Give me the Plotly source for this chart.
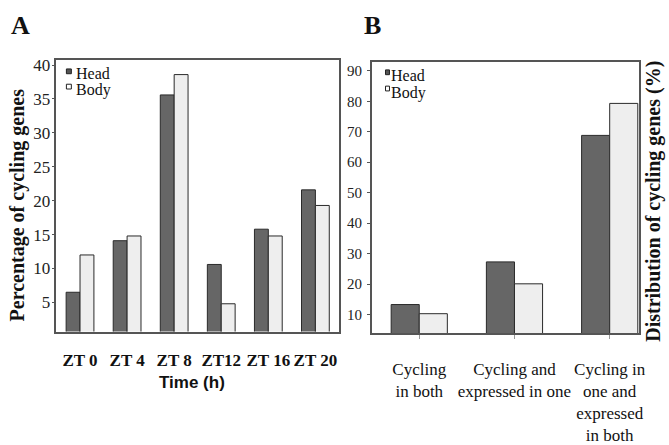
import plotly.graph_objects as go

# ---- data ----
time_points = ["ZT 0", "ZT 4", "ZT 8", "ZT12", "ZT 16", "ZT 20"]
head_pct = [6.5, 14.1, 35.6, 10.6, 15.8, 21.6]
body_pct = [12.0, 14.8, 38.6, 4.8, 14.8, 19.3]

dist_categories = ["Cycling<br>in both", "Cycling and<br>expressed in one",
                   "Cycling in<br>one and<br>expressed<br>in both"]
head_dist = [13.3, 27.3, 68.8]
body_dist = [10.3, 20.1, 79.3]

y_ticks_a = [5, 10, 15, 20, 25, 30, 35, 40]
y_ticks_b = [10, 20, 30, 40, 50, 60, 70, 80, 90]

W, H = 669, 445
SERIF = "Liberation Serif, Times New Roman, serif"
SANS = "Liberation Sans, Arial, sans-serif"
HEAD_FILL = "#666666"
BODY_FILL = "#eeeeee"
EDGE = "#2a2a2a"
FRAME = "#555555"


def px(x):
    return x / W


def py(y):
    return 1 - y / H


fig = go.Figure()

fig.add_trace(go.Bar(x=list(range(len(time_points))), y=head_pct, name="Head",
                     marker=dict(color=HEAD_FILL, line=dict(color=EDGE, width=1)),
                     xaxis="x", yaxis="y", showlegend=False))
fig.add_trace(go.Bar(x=list(range(len(time_points))), y=body_pct, name="Body",
                     marker=dict(color=BODY_FILL, line=dict(color=EDGE, width=1)),
                     xaxis="x", yaxis="y", showlegend=False))
fig.add_trace(go.Bar(x=list(range(len(dist_categories))), y=head_dist, name="Head",
                     marker=dict(color=HEAD_FILL, line=dict(color=EDGE, width=1)),
                     xaxis="x2", yaxis="y2", showlegend=False))
fig.add_trace(go.Bar(x=list(range(len(dist_categories))), y=body_dist, name="Body",
                     marker=dict(color=BODY_FILL, line=dict(color=EDGE, width=1)),
                     xaxis="x2", yaxis="y2", showlegend=False))

axis_common = dict(showline=True, linecolor=FRAME, linewidth=1.5, mirror=True,
                   showgrid=False, zeroline=False)

fig.update_layout(
    width=W, height=H,
    margin=dict(l=0, r=0, t=0, b=0),
    paper_bgcolor="white", plot_bgcolor="white",
    barmode="group", bargap=0.41, bargroupgap=0,
    xaxis=dict(domain=[px(57), px(342)], anchor="y",
               range=[-0.5, len(time_points) - 0.5],
               tickmode="array", tickvals=list(range(len(time_points))),
               ticktext=time_points, ticks="",
               tickfont=dict(family=SERIF, size=17, color="#111", weight="bold"),
               ticklabelstandoff=12, **axis_common),
    yaxis=dict(domain=[py(343), py(59)], anchor="x", range=[0.7, 40.7],
               tickmode="array", tickvals=y_ticks_a, ticks="outside", ticklen=3,
               tickcolor=FRAME, tickfont=dict(family=SERIF, size=17, color="#222"),
               ticklabelstandoff=-2, **axis_common),
    xaxis2=dict(domain=[px(375), px(645)], anchor="y2", range=[-0.5, 2.31],
                tickmode="array", tickvals=list(range(len(dist_categories))),
                ticktext=dist_categories, ticks="outside", ticklen=4, tickcolor="#999",
                tickfont=dict(family=SERIF, size=17, color="#111"),
                ticklabelstandoff=15, **axis_common),
    yaxis2=dict(domain=[py(345), py(61)], anchor="x2", range=[3.8, 92.8],
                tickmode="array", tickvals=y_ticks_b, ticks="outside", ticklen=3,
                tickcolor=FRAME, tickfont=dict(family=SERIF, size=15, color="#222"),
                ticklabelstandoff=2, **axis_common),
)

annotations = [
    dict(text="<b>A</b>", x=px(10), y=py(23), xanchor="left", yanchor="middle",
         font=dict(family=SERIF, size=26, color="#111")),
    dict(text="<b>B</b>", x=px(366), y=py(23), xanchor="left", yanchor="middle",
         font=dict(family=SERIF, size=26, color="#111")),
    dict(text="<b>Percentage of cycling genes</b>", x=px(18), y=py(210), textangle=-90,
         xanchor="center", yanchor="middle", font=dict(family=SERIF, size=20, color="#111")),
    dict(text="<b>Distribution of cycling genes (%)</b>", x=px(660), y=py(207), textangle=-90,
         xanchor="center", yanchor="middle", font=dict(family=SERIF, size=20, color="#111")),
    dict(text="<b>Time (h)</b>", x=px(194), y=py(396), xanchor="center", yanchor="middle",
         font=dict(family=SANS, size=17, color="#111")),
    dict(text="Head", x=px(76), y=py(73), xanchor="left", yanchor="middle",
         font=dict(family=SERIF, size=16, color="#111")),
    dict(text="Body", x=px(76), y=py(90), xanchor="left", yanchor="middle",
         font=dict(family=SERIF, size=16, color="#111")),
    dict(text="Head", x=px(394), y=py(75), xanchor="left", yanchor="middle",
         font=dict(family=SERIF, size=16, color="#111")),
    dict(text="Body", x=px(394), y=py(93), xanchor="left", yanchor="middle",
         font=dict(family=SERIF, size=16, color="#111")),
]
for a in annotations:
    a.update(xref="paper", yref="paper", showarrow=False, borderpad=0)
fig.update_layout(annotations=annotations)

shapes = [
    dict(x0=px(67), x1=px(72), y0=py(73), y1=py(68), fillcolor="#555", line=dict(color="#222", width=1)),
    dict(x0=px(67), x1=px(72), y0=py(89), y1=py(84), fillcolor="white", line=dict(color="#222", width=1)),
    dict(x0=px(389), x1=px(393), y0=py(74), y1=py(69), fillcolor="#555", line=dict(color="#222", width=1)),
    dict(x0=px(389), x1=px(393), y0=py(91), y1=py(86), fillcolor="white", line=dict(color="#222", width=1)),
]
for s in shapes:
    s.update(type="rect", xref="paper", yref="paper")
fig.update_layout(shapes=shapes)

fig.write_html("out.html")
